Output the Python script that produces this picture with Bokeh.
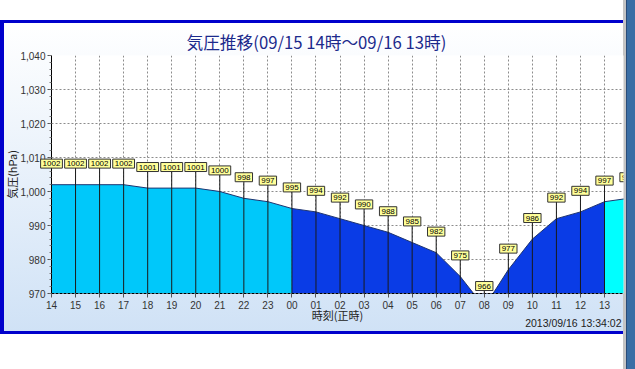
from bokeh.plotting import figure
from bokeh.models import (ColumnDataSource, Label, FixedTicker,
                          NumeralTickFormatter, Range1d)
from bokeh.embed import file_html
from bokeh.resources import INLINE
from bokeh.core.properties import value

# ---- data ----
hour_labels = ["14", "15", "16", "17", "18", "19", "20", "21", "22", "23",
               "00", "01", "02", "03", "04", "05", "06", "07", "08", "09",
               "10", "11", "12", "13"]
pressure = [1002, 1002, 1002, 1002, 1001, 1001, 1001, 1000, 998, 997,
            995, 994, 992, 990, 988, 985, 982, 975, 966, 977,
            986, 992, 994, 997, 998]
y_ticks = [970, 980, 990, 1000, 1010, 1020, 1030, 1040]
title_text = "気圧推移(09/15 14時～09/16 13時)"
x_title = "時刻(正時)"
y_title = "気圧(hPa)"
timestamp = "2013/09/16 13:34:02"

BASE = 970
LABEL_LIFT = 6.2  # hPa above the point where the value box sits

xs = list(range(len(pressure)))
src = ColumnDataSource(dict(x=xs, y=pressure, base=[BASE] * len(xs),
                            ly=[v + LABEL_LIFT for v in pressure]))
n_in = len(hour_labels)
src_out = ColumnDataSource(dict(x=xs[n_in:], ly=[v + LABEL_LIFT for v in pressure[n_in:]],
                                txt=[str(v) for v in pressure[n_in:]]))

W, H = 635, 369
p = figure(width=W, height=H, output_backend="svg", toolbar_location=None,
           x_range=Range1d(0, 23.79), y_range=Range1d(970, 1040),
           min_border_left=51, min_border_right=12, min_border_top=55,
           min_border_bottom=76)
p.outline_line_color = None
p.border_fill_alpha = 0
p.background_fill_color = "white"
p.styles = {"background": (
    "linear-gradient(#0000cc,#0000cc) 0px 20px / 623px 3px no-repeat,"
    "linear-gradient(#0000cc,#0000cc) 0px 20px / 4px 314px no-repeat,"
    "linear-gradient(#0000cc,#0000cc) 0px 331px / 623px 3px no-repeat,"
    "linear-gradient(to right, #c4c4c4 0px, #c4c4c4 3px, #2a4c78 3px, #2a4c78 4px, #3a6ea5 4px) 623px 0px / 12px 369px no-repeat,"
    "linear-gradient(to bottom, #ffffff, #d0e2f6) 4px 23px / 619px 308px no-repeat,"
    "#ffffff")}

# ---- title ----
p.title.text = title_text
p.title.align = "left"
p.title.offset = 135
p.title.standoff = 4
p.title.text_font = "Noto Sans CJK JP"
p.title.text_font_size = "16.7px"
p.title.text_font_style = "normal"
p.title.text_color = "#1c2a8c"

# ---- grid / axes ----
p.xaxis.ticker = FixedTicker(ticks=list(range(n_in)))
p.xaxis.major_label_overrides = {i: s for i, s in enumerate(hour_labels)}
p.yaxis.ticker = FixedTicker(ticks=y_ticks, minor_ticks=list(range(970, 1041, 2)))
p.yaxis.formatter = NumeralTickFormatter(format="0,0")

for g in (p.xgrid, p.ygrid):
    g.grid_line_color = "#8c8c8c"
    g.grid_line_dash = "2 2"
    g.grid_line_width = 1

for ax in (p.xaxis, p.yaxis):
    ax.major_label_text_font = "Liberation Sans"
    ax.major_label_text_font_size = "10px"
    ax.major_label_text_color = "#333333"
    ax.axis_line_color = "#000000"
    ax.major_tick_line_color = "#555555"
    ax.major_tick_out = 4
    ax.major_tick_in = 0
    ax.axis_label_text_font = "Noto Sans CJK JP"
    ax.axis_label_text_font_style = "normal"
    ax.axis_label_text_color = "#222222"

p.xaxis.axis_line_dash = "3 1"
p.xaxis.minor_tick_line_color = None
p.xaxis.major_label_standoff = 3
p.xaxis.axis_label = x_title
p.xaxis.axis_label_text_font_size = "11px"
p.xaxis.axis_label_standoff = -5

p.yaxis.minor_tick_line_color = "#777777"
p.yaxis.minor_tick_out = 2
p.yaxis.minor_tick_in = 0
p.yaxis.major_label_standoff = 2
p.yaxis.axis_label = y_title
p.yaxis.axis_label_text_font_size = "11px"
p.yaxis.axis_label_standoff = -3

# ---- area ----
p.varea(x=xs[0:11], y1=[BASE] * 11, y2=pressure[0:11], fill_color="#00c8fa")
p.varea(x=xs[10:24], y1=[BASE] * 14, y2=pressure[10:24], fill_color="#0a3ce6")
p.varea(x=xs[23:25], y1=[BASE] * 2, y2=pressure[23:25], fill_color="#00ffff")
p.line(x="x", y="y", source=src, line_color="#1e3470", line_width=1)

# value stems and boxes
p.segment(x0="x", y0="base", x1="x", y1="ly", source=src,
          line_color="#1a1a1a", line_width=1)
box_style = dict(text_align="center", text_baseline="middle",
                 text_font="Liberation Sans", text_font_size="8px",
                 text_color="#000000", background_fill_color="#ffff99",
                 border_line_color="#333333", border_line_width=1, padding=2)
for xi, v in zip(xs[:n_in], pressure[:n_in]):
    lab = Label(x=xi, y=v + LABEL_LIFT, text=str(v), **box_style)
    # the first box hangs over the y axis: keep it out of the frame clip
    p.add_layout(lab, "below" if xi == 0 else "center")
p.text(x="x", y="ly", text="txt", source=src_out, text_align="center",
       text_baseline="middle", text_font=value("Liberation Sans"),
       text_font_size="8px", text_color="#000000",
       background_fill_color="#ffff99", border_line_color="#333333",
       border_line_width=1, padding=2)

# ---- timestamp ----
p.add_layout(Label(x=p.x_range.end, y=BASE, x_offset=-2, y_offset=-29,
                   text=timestamp, text_align="right", text_baseline="middle",
                   text_font="Liberation Sans", text_font_size="10.5px",
                   text_color="#222222"), "below")

open("out.html", "w").write(file_html(p, INLINE))
